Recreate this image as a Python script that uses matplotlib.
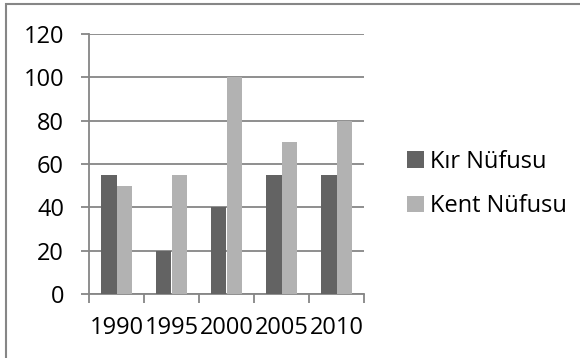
import matplotlib
matplotlib.use('Agg')
import matplotlib.pyplot as plt
from matplotlib.patches import Rectangle
import numpy as np

years = ['1990', '1995', '2000', '2005', '2010']
kir_nufusu = [55, 20, 40, 55, 55]
kent_nufusu = [50, 55, 100, 70, 80]
series_names = ['Kır Nüfusu', 'Kent Nüfusu']

dark = '#636363'
light = '#b2b2b2'
grid_gray = '#868686'

plt.rcParams['font.family'] = ['Open Sans', 'DejaVu Sans']
fs = 17

fig = plt.figure(figsize=(5.8, 3.58), dpi=100)
fig.patches.append(Rectangle((6 / 580, -0.01), 1.0, 1 - 4 / 358 + 0.01,
                             transform=fig.transFigure, fill=False,
                             edgecolor=grid_gray, linewidth=1.5))

ax = fig.add_axes([89 / 580, 1 - 294 / 358, 275 / 580, 260 / 358])

x = np.arange(len(years))
w = 0.285
b1 = ax.bar(x - w / 2, kir_nufusu, w, color=dark, label=series_names[0], zorder=3)
b2 = ax.bar(x + w / 2, kent_nufusu, w, color=light, label=series_names[1], zorder=3)

ax.set_xlim(-0.5, len(years) - 0.5)
ax.set_ylim(0, 120)
ax.set_yticks(range(0, 121, 20))
ax.yaxis.grid(True, color=grid_gray, linewidth=1.3, zorder=0)

ax.set_xticks(np.arange(-0.5, len(years), 1.0))
ax.set_xticklabels([])
ax.set_xticks(x, minor=True)
ax.set_xticklabels(years, minor=True)
ax.tick_params(axis='x', which='major', length=6.5, width=1.3, color=grid_gray)
ax.tick_params(axis='x', which='minor', length=0, pad=16, labelsize=fs)
ax.tick_params(axis='y', length=6, width=1.3, color=grid_gray, labelsize=fs, pad=12)

for side in ['top', 'right']:
    ax.spines[side].set_visible(False)
for side in ['left', 'bottom']:
    ax.spines[side].set_color(grid_gray)
    ax.spines[side].set_linewidth(1.3)

fig.legend(handles=[b1, b2], loc='center left', bbox_to_anchor=(398 / 580, 1 - 184 / 358),
           frameon=False, fontsize=fs, handlelength=0.7, handleheight=0.7,
           handletextpad=0.25, labelspacing=0.85, borderaxespad=0)

fig.savefig('out.png', dpi=100)
